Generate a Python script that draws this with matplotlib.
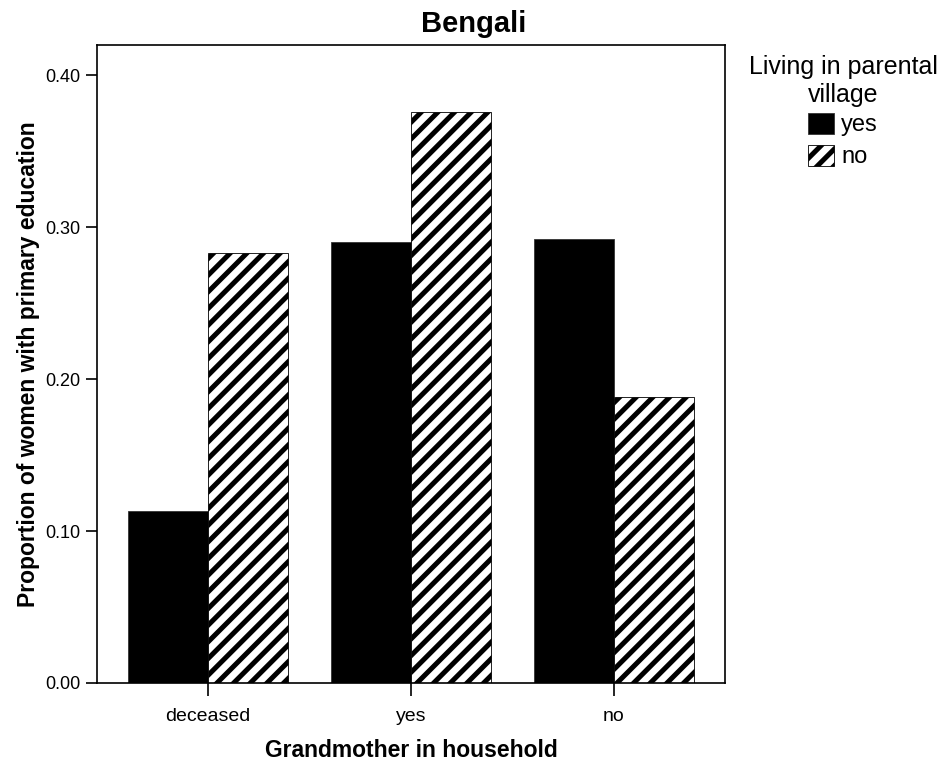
import matplotlib.pyplot as plt
import matplotlib.patches as mpatches
import numpy as np

plt.rcParams['font.family'] = ['Liberation Sans', 'DejaVu Sans']
plt.rcParams['hatch.linewidth'] = 3.6

# data
categories = ['deceased', 'yes', 'no']
living_yes = [0.113, 0.290, 0.292]
living_no = [0.283, 0.376, 0.188]
yticks = [0.00, 0.10, 0.20, 0.30, 0.40]

fig = plt.figure(figsize=(9.47, 7.68), dpi=100)
ax = fig.add_axes([0.1024, 0.1107, 0.6632, 0.8307])

x = np.arange(len(categories))
w = 0.395
ax.bar(x - w / 2, living_yes, w, color='black', edgecolor='#333333', linewidth=0.6)
ax.bar(x + w / 2, living_no, w, color='white', edgecolor='black', hatch='//', linewidth=0.6)

ax.set_xlim(-0.547, 2.547)
ax.set_ylim(0, 0.42)
ax.set_yticks(yticks)
ax.set_yticklabels(['%.2f' % v for v in yticks], fontsize=13)
ax.set_xticks(x)
ax.set_xticklabels(categories, fontsize=14)
ax.tick_params(axis='y', direction='out', length=8, width=1.2, pad=4)
ax.tick_params(axis='x', direction='out', length=9, width=1.2, pad=9)
for s in ax.spines.values():
    s.set_linewidth(1.2)

ax.set_xlabel('Grandmother in household', fontsize=16.5, fontweight='bold', labelpad=10)
ax.set_ylabel('Proportion of women with primary education', fontsize=16.5,
              fontweight='bold', labelpad=4)
fig.text(0.5, 0.969, 'Bengali', fontsize=21, fontweight='bold', ha='center', va='center')

handles = [mpatches.Patch(facecolor='black', edgecolor='#333333', linewidth=0.6, label='yes'),
           mpatches.Patch(facecolor='white', edgecolor='black', hatch='//', linewidth=0.6, label='no')]
leg = fig.legend(handles=handles, title='Living in parental\nvillage', loc='upper center',
                 bbox_to_anchor=(843 / 947, 1 - 34 / 768), frameon=False, fontsize=17,
                 title_fontsize=18, handlelength=1.1, handleheight=1.0, handletextpad=0.3,
                 labelspacing=0.35)
leg.get_title().set_multialignment('center')
leg._legend_box.sep = 4

fig.savefig('out.png', dpi=100)
